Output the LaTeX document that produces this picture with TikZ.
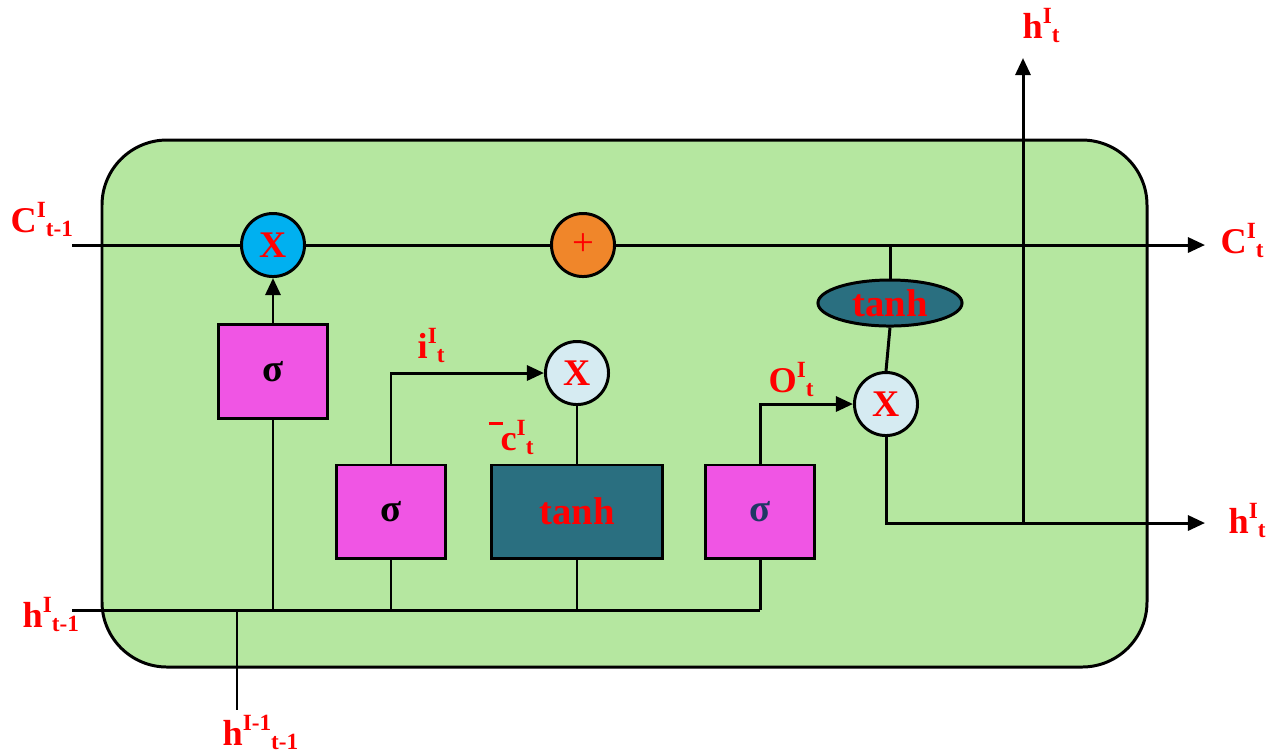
\documentclass[tikz,border=0pt]{standalone}
\usepackage{fontspec}
\setmainfont{Liberation Serif}
\usepackage{tikz}
\usetikzlibrary{arrows.meta,positioning,shapes.geometric}
\definecolor{cellbg}{HTML}{B5E7A0}
\definecolor{gatec}{HTML}{F055E4}
\definecolor{tealc}{HTML}{2A6F80}
\definecolor{bluec}{HTML}{00B0F0}
\definecolor{orc}{HTML}{F0862A}
\definecolor{paleb}{HTML}{D6EBF2}
\definecolor{navyc}{HTML}{1F3864}
\newcommand{\lsub}[3]{#1\raisebox{4pt}{\fontsize{6.6}{7}\selectfont #2}\raisebox{-1.3pt}{\fontsize{6.6}{7}\selectfont #3}}
\tikzset{
  ln/.style={line width=0.85pt,black},
  ar/.style={-{Triangle[length=1.7mm,width=1.5mm]},line width=0.85pt,black},
  gbox/.style={draw,line width=0.85pt,fill=gatec,minimum width=1.09cm,minimum height=0.93cm,font=\fontsize{11}{13}\selectfont\bfseries},
  op/.style={circle,draw,line width=0.85pt,minimum size=0.63cm,inner sep=0pt,text=red,font=\fontsize{10.7}{12}\selectfont\bfseries},
  lbl/.style={anchor=base west,text=red,inner sep=0pt,font=\fontsize{10.3}{12}\selectfont\bfseries}
}
\begin{document}
\begin{tikzpicture}[x=0.01cm,y=-0.01cm]
\useasboundingbox (0,0) rectangle (1272,753);
% cell body
\draw[ln,fill=cellbg,rounded corners=6.5mm] (102,140) rectangle (1147,667);

% gates
\node[gbox] (fsig) at (273,371.5) {σ};
\node[gbox] (isig) at (391,511.5) {σ};
\node[gbox,fill=tealc,minimum width=1.70cm,text=red] (cand) at (577,511.5) {tanh};
\node[gbox,text=navyc] (osig) at (760,511.5) {σ};
\node[ellipse,draw,line width=0.85pt,fill=tealc,minimum width=1.44cm,minimum height=0.46cm,inner sep=0pt,text=red,font=\fontsize{11}{13}\selectfont\bfseries] (tanhc) at (890,303) {tanh};

% pointwise ops
\node[op,fill=bluec] (fx) at (273,245) {X};
\node[op,fill=orc,font=\fontsize{11}{12}\selectfont] (add) at (583,245) {+};
\node[op,fill=paleb] (ix) at (577,373) {X};
\node[op,fill=paleb] (ox) at (886,404) {X};

% free ends and junctions
\coordinate (cin) at (72,245);
\coordinate (cout) at (1205,245);
\coordinate (ct) at (890,245);
\coordinate (hin) at (72,610);
\coordinate (j0) at (237,610);
\coordinate (j1) at (273,610);
\coordinate (j2) at (391,610);
\coordinate (j3) at (577,610);
\coordinate (j4) at (760,610);
\coordinate (hbot) at (237,710);
\coordinate (jh) at (1023,523);
\coordinate (hout) at (1205,523);
\coordinate (htop) at (1023,58);

% cell state line
\draw[ln] (cin) -- (fx.west);
\draw[ln] (fx.east) -- (add.west);
\draw[ar] (add.east) -- (cout);
\draw[ln] (ct) -- (tanhc.north);

% hidden input line
\draw[ln] (hin) -- (j4);
\draw[ln] (j0) -- (hbot);
\draw[ln] (j1) -- (fsig.south);
\draw[ln] (j2) -- (isig.south);
\draw[ln] (j3) -- (cand.south);
\draw[ln] (j4) -- (osig.south);

\draw[ar] (fsig.north) -- (fx.south);
\draw[ar] (isig.north) |- (ix.west);
\draw[ln] (cand.north) -- (ix.south);
\draw[ar] (osig.north) |- (ox.west);
\draw[ln] (ox.north) -- (tanhc.south);
\draw[ar] (ox.south) |- (hout);
\draw[ar] (jh) -- (htop);

% labels
\node[lbl] (lcin) at (10,232) {\lsub{C}{I}{t-1}};
\node[lbl] (lcout) at (1220,253) {\lsub{C}{I}{t}};
\node[lbl] (lhtop) at (1022,38) {\lsub{h}{I}{t}};
\node[lbl] (lhout) at (1228,533) {\lsub{h}{I}{t}};
\node[lbl] (lhin) at (22,627) {\lsub{h}{I}{t-1}};
\node[lbl] (lhbot) at (222,745) {\lsub{h}{I-1}{t-1}};
\node[lbl] (li) at (417,358) {\lsub{i}{I}{t}};
\node[lbl] (lc) at (488,450) {\rule[7pt]{4pt}{0.9pt}\kern-0.6pt\lsub{c}{I}{t}};
\node[lbl] (lo) at (768,392) {\lsub{O}{I}{t}};
\end{tikzpicture}
\end{document}
